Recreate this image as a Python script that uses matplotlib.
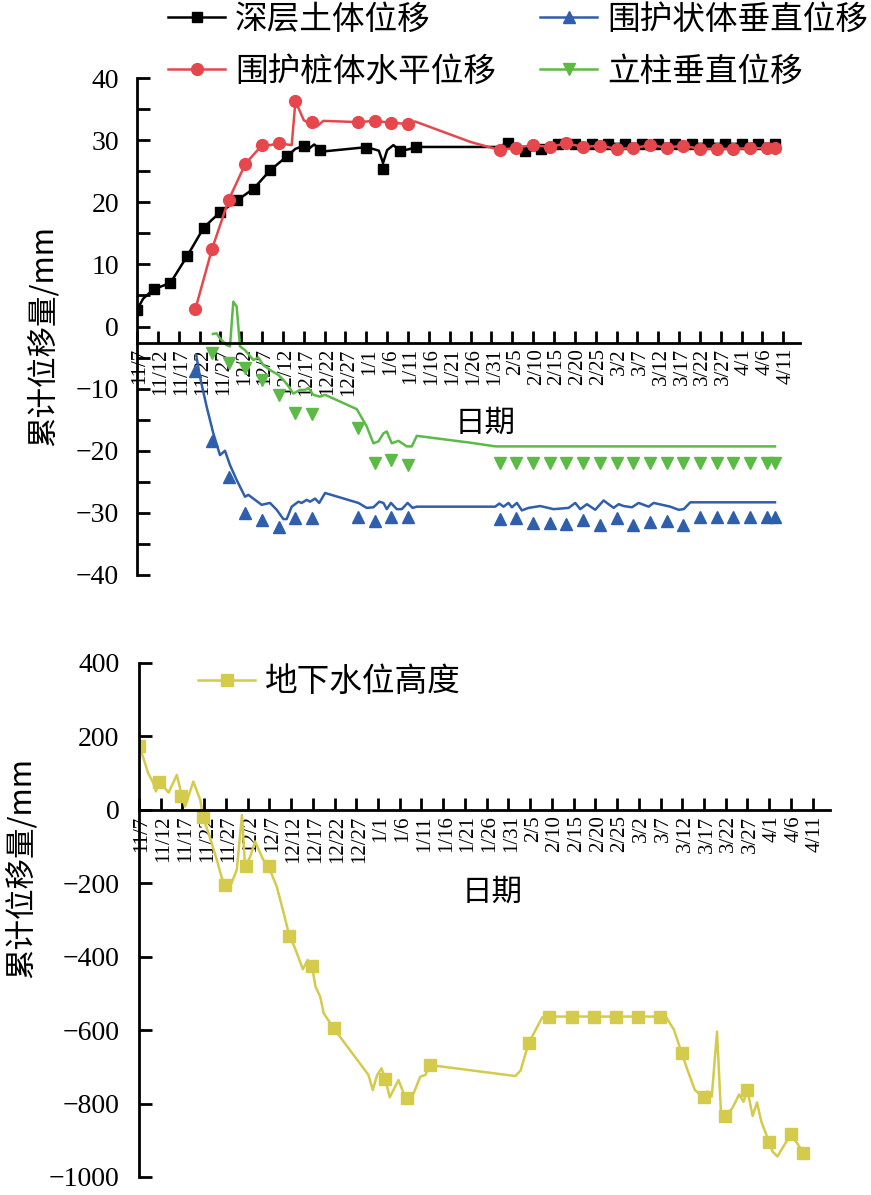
import matplotlib
matplotlib.use("Agg")
import matplotlib.pyplot as plt
import matplotlib.transforms as mtransforms
from matplotlib.lines import Line2D
from matplotlib.ticker import MultipleLocator
from matplotlib.font_manager import FontProperties

# 日期：从 11/7 起的天数
tick_days = list(range(0, 156, 5))
tick_labels = ["11/7", "11/12", "11/17", "11/22", "11/27", "12/2", "12/7", "12/12",
               "12/17", "12/22", "12/27", "1/1", "1/6", "1/11", "1/16", "1/21",
               "1/26", "1/31", "2/5", "2/10", "2/15", "2/20", "2/25", "3/2", "3/7",
               "3/12", "3/17", "3/22", "3/27", "4/1", "4/6", "4/11"]

# 深层土体位移
soil_line_days = [0, 1.5, 4, 8, 12, 16, 18, 20, 24, 28, 32, 36, 38, 40, 41, 42.5, 44, 45,
                  54, 55, 56.5, 58, 59, 60, 61.5, 63, 65, 67, 86.7, 89, 93, 97, 101, 105, 153]
soil_line_vals = [2.7, 4.5, 6.0, 7.0, 11.3, 15.9, 17.2, 18.4, 20.3, 22.2, 25.2, 27.4, 28.6,
                  29.1, 28.5, 29.3, 28.4, 28.2, 28.8, 28.7, 28.6, 28.3, 26.3, 28.4, 29.2,
                  28.3, 28.5, 28.9, 28.9, 29.6, 28.2, 28.5, 29.3, 29.4, 29.4]
soil_mark_days = [0, 4, 8, 12, 16, 20, 24, 28, 32, 36, 40, 44, 55, 59, 63, 67,
                  89, 93, 97, 101, 105, 109, 113, 117, 121, 125, 129, 133, 137, 141,
                  145, 149, 153]
soil_mark_vals = [2.7, 6.0, 7.0, 11.3, 15.9, 18.4, 20.3, 22.2, 25.2, 27.4, 29.1, 28.4,
                  28.7, 25.3, 28.3, 28.9, 29.6, 28.2, 28.5, 29.3, 29.4, 29.4, 29.4, 29.4,
                  29.4, 29.4, 29.4, 29.4, 29.4, 29.4, 29.4, 29.4, 29.4]

# 围护桩体水平位移
pile_line_days = [14, 18, 22, 26, 30, 32, 34, 36, 37.1, 38, 40, 42.2, 43.1, 44.7, 53, 57,
                  61, 65, 66.7, 80, 87, 91, 95, 99, 103, 107, 111, 115, 119, 123, 127,
                  131, 135, 139, 143, 147, 151, 153]
pile_line_vals = [2.8, 12.5, 20.4, 26.2, 29.2, 29.2, 29.5, 29.3, 29.2, 36.3, 33.2, 32.4,
                  32.2, 33.1, 32.9, 33.1, 32.8, 32.6, 33.0, 29.7, 28.4, 28.8, 29.2, 28.9,
                  29.5, 28.9, 29.1, 28.6, 28.7, 29.2, 28.8, 29.1, 28.6, 28.6, 28.6, 28.7,
                  28.7, 28.7]
pile_mark_days = [14, 18, 22, 26, 30, 34, 38, 42, 53, 57, 61, 65, 87, 91, 95, 99, 103,
                  107, 111, 115, 119, 123, 127, 131, 135, 139, 143, 147, 151, 153]
pile_mark_vals = [2.8, 12.5, 20.4, 26.2, 29.2, 29.5, 36.3, 32.9, 32.9, 33.1, 32.8, 32.6,
                  28.4, 28.8, 29.2, 28.9, 29.5, 28.9, 29.1, 28.6, 28.7, 29.2, 28.8, 29.1,
                  28.6, 28.6, 28.6, 28.7, 28.7, 28.7]

# 围护状体垂直位移
wall_line_days = [14.2, 15.1, 16.7, 18.3, 19.9, 21.1, 22.3, 23.9, 25.9, 26.7, 28.3, 29.9,
                  31.9, 33.5, 35.1, 35.9, 37.1, 38.7, 39.5, 40.7, 41.5, 42.7, 43.7, 45.1,
                  53.1, 55.1, 56.7, 58.1, 59.1, 59.9, 60.9, 62.3, 63.5, 64.9, 66.1, 67.1,
                  85.9, 86.9, 87.9, 89.1, 89.9, 91.1, 92.3, 93.9, 96.7, 99.9, 103.5, 105.1,
                  106.3, 107.9, 109.9, 111.9, 114.3, 115.5, 116.7, 118.7, 120.3, 122.7,
                  123.9, 127.9, 129.9, 131.1, 132.7, 153]
wall_line_vals = [-4.6, -8.1, -12.9, -17.2, -20.7, -20.0, -22.3, -24.7, -27.4, -27.1, -27.9,
                  -28.7, -28.4, -29.5, -31.0, -31.0, -29.0, -28.2, -28.4, -27.9, -28.2,
                  -27.7, -28.4, -26.8, -28.4, -29.2, -29.1, -28.2, -28.4, -29.4, -28.4,
                  -29.4, -29.4, -28.4, -29.2, -29.0, -29.0, -28.5, -29.0, -28.4, -29.1,
                  -28.4, -29.6, -29.2, -28.9, -29.4, -29.2, -28.4, -29.4, -28.6, -29.5,
                  -28.0, -29.2, -28.6, -28.9, -29.1, -28.4, -29.0, -28.4, -29.0, -29.5,
                  -29.4, -28.3, -28.3]
wall_mark_days = [14, 18, 22, 26, 30, 34, 38, 42, 53, 57, 61, 65, 87, 91, 95, 99, 103,
                  107, 111, 115, 119, 123, 127, 131, 135, 139, 143, 147, 151, 153]
wall_mark_vals = [-7.1, -18.4, -24.3, -30.1, -31.1, -32.3, -30.9, -30.9, -30.7, -31.3,
                  -30.7, -30.7, -31.0, -30.9, -31.7, -31.7, -31.8, -31.1, -32.0, -30.9,
                  -32.0, -31.4, -31.3, -32.0, -30.7, -30.7, -30.7, -30.7, -30.7, -30.7]

# 立柱垂直位移
column_line_days = [18.2, 19.1, 19.9, 21.5, 22.3, 23.1, 23.9, 24.7, 25.9, 27.9, 29.1, 30.3,
                    31.9, 33.9, 35.1, 36.3, 37.5, 39.1, 40.3, 41.1, 42.3, 43.9, 45.1, 47.1,
                    52.7, 55.1, 56.7, 57.9, 59.1, 59.9, 61.1, 62.7, 64.7, 65.9, 67.1, 79.9,
                    86, 153]
column_line_vals = [-1.2, -1.1, -1.9, -3.0, -3.2, 4.0, 3.2, -3.2, -3.8, -5.4, -5.0, -6.2,
                    -7.0, -7.8, -8.6, -9.6, -10.8, -10.2, -10.2, -9.9, -11.0, -11.3, -11.0,
                    -11.6, -13.3, -16.1, -18.8, -18.5, -17.2, -16.9, -18.8, -18.4, -19.3,
                    -19.3, -17.6, -18.7, -19.3, -19.3]
column_mark_days = [18, 22, 26, 30, 34, 38, 42, 53, 57, 61, 65, 87, 91, 95, 99, 103, 107,
                    111, 115, 119, 123, 127, 131, 135, 139, 143, 147, 151, 153]
column_mark_vals = [-4.2, -5.9, -6.6, -8.6, -11.0, -13.9, -14.1, -16.3, -21.9, -21.5, -22.3,
                    -22.0, -22.0, -22.0, -22.0, -22.0, -22.0, -22.0, -22.0, -22.0, -22.0,
                    -22.0, -22.0, -22.0, -22.0, -22.0, -22.0, -22.0, -22.0]

# 地下水位高度
water_line_days = [0, 1.4, 2.1, 3.3, 3.9, 4.7, 6.8, 8.7, 9.8, 10.6, 12.5, 14.1, 14.8, 16.0,
                   17.9, 19.4, 20.6, 22.5, 23.7, 24.4, 25.6, 26.7, 28.6, 29.8, 31.7, 33.2,
                   34.6, 35.9, 37.7, 38.8, 39.8, 40.6, 41.7, 42.5, 44.8, 52.8, 53.8, 54.8,
                   55.8, 56.7, 57.7, 59.7, 60.9, 61.7, 63.2, 64.7, 65.9, 66.9, 86.6, 87.8,
                   89.7, 92.8, 94.3, 121.2, 123.1, 124.9, 126.2, 127.9, 129.9, 130.8, 131.8,
                   133.0, 133.9, 134.8, 136.5, 138.1, 139.1, 140.0, 141.2, 142.2, 143.2,
                   145.0, 145.8, 146.9, 150.0, 152.9]
water_line_vals = [177, 127, 100, 73, 50, 77, 47, 95, 41, 9, 77, 27, -23, -63, -136, -200,
                   -220, -163, -14, -154, -127, -86, -136, -154, -209, -277, -343, -377,
                   -434, -409, -425, -481, -509, -554, -595, -722, -763, -722, -704, -734,
                   -783, -736, -772, -786, -772, -727, -722, -695, -725, -710, -634, -565,
                   -563, -563, -599, -663, -708, -763, -783, -767, -781, -604, -822, -834,
                   -813, -775, -795, -763, -834, -797, -849, -905, -931, -944, -883, -934]
water_mark_days = [0, 4.7, 9.6, 14.7, 19.7, 24.7, 29.8, 34.6, 39.8, 44.8, 56.7, 61.7, 66.9,
                   89.7, 94.3, 99.7, 104.8, 109.8, 114.8, 119.9, 124.9, 129.9, 134.8, 140.0,
                   145.0, 150.0, 152.9]
water_mark_vals = [174, 77, 39, -20, -204, -153, -154, -343, -425, -595, -734, -786, -695,
                   -634, -565, -563, -563, -563, -563, -563, -663, -783, -834, -763, -905,
                   -883, -934]

BLACK = "#000000"
RED = "#E5474D"
BLUE = "#2F5EAC"
GREEN = "#5CBA46"
YELLOW = "#D4CB4C"

NUM_FONT = "Liberation Serif"
CJK = FontProperties(family=["Noto Sans CJK SC", "DejaVu Sans"], size=22)
CJK_LEG = FontProperties(family=["Noto Sans CJK SC", "DejaVu Sans"], size=23.5)

fig = plt.figure(figsize=(8.71, 11.95), dpi=100)
ax1 = fig.add_axes([137 / 871, 1 - 575 / 1195, 663 / 871, 497 / 1195])
ax2 = fig.add_axes([139 / 871, 1 - 1177 / 1195, 691 / 871, 514 / 1195])


def style_axis(ax, cross_y, label_pad):
    for side in ("top", "right"):
        ax.spines[side].set_visible(False)
    ax.spines["left"].set_linewidth(2.0)
    ax.spines["bottom"].set_linewidth(2.0)
    ax.spines["bottom"].set_position(("data", cross_y))
    ax.set_xlim(0, 159)
    ax.set_xticks(tick_days)
    ax.set_xticklabels(tick_labels, rotation=90, fontsize=15, fontfamily=NUM_FONT)
    ax.tick_params(axis="x", direction="in", length=9, width=2.0, pad=4)
    ax.tick_params(axis="y", which="both", direction="in", length=9, width=2.0,
                   pad=label_pad, labelsize=20)
    for lab in ax.get_yticklabels():
        lab.set_fontfamily(NUM_FONT)
    shift = mtransforms.ScaledTranslation(3 / 100, 0, fig.dpi_scale_trans)
    for lab in ax.get_xticklabels():
        lab.set_transform(lab.get_transform() + shift)


# 上图：位移
ax1.set_ylim(-40, 40)
ax1.set_yticks(range(-40, 41, 10))
ax1.yaxis.set_minor_locator(MultipleLocator(5))
style_axis(ax1, -2.6, 13)

ax1.plot(soil_line_days, soil_line_vals, color=BLACK, lw=1.8)
ax1.plot(soil_mark_days, soil_mark_vals, ls="none", marker="s", ms=7.5, color=BLACK)
ax1.plot(pile_line_days, pile_line_vals, color=RED, lw=1.8)
ax1.plot(pile_mark_days, pile_mark_vals, ls="none", marker="o", ms=8.5, color=RED)
ax1.plot(wall_line_days, wall_line_vals, color=BLUE, lw=1.8)
ax1.plot(wall_mark_days, wall_mark_vals, ls="none", marker="^", ms=8, color=BLUE)
ax1.plot(column_line_days, column_line_vals, color=GREEN, lw=1.8)
ax1.plot(column_mark_days, column_mark_vals, ls="none", marker="v", ms=8, color=GREEN)

handles = [
    Line2D([], [], color=BLACK, lw=1.8, marker="s", ms=7.5),
    Line2D([], [], color=RED, lw=1.8, marker="o", ms=8.5),
    Line2D([], [], color=BLUE, lw=1.8, marker="^", ms=8),
    Line2D([], [], color=GREEN, lw=1.8, marker="v", ms=8),
]
labels = ["深层土体位移", "围护桩体水平位移", "围护状体垂直位移", "立柱垂直位移"]
fig.legend(handles, labels, loc="upper left", bbox_to_anchor=(168 / 871, 0.997),
           ncol=2, frameon=False, prop=CJK_LEG, handlelength=1.75, handletextpad=0.3,
           columnspacing=1.35, labelspacing=0.62, borderpad=0, borderaxespad=0,
           numpoints=1)

fig.text(43 / 871, 1 - 336 / 1195, "累计位移量/mm", rotation=90, ha="center",
         va="center", fontproperties=CJK)
fig.text(485 / 871, 1 - 423 / 1195, "日期", ha="center", va="center",
         fontproperties=CJK)

# 下图：地下水位
ax2.set_ylim(-1000, 400)
ax2.set_yticks(range(-1000, 401, 200))
style_axis(ax2, 0, 14)

ax2.plot(water_line_days, water_line_vals, color=YELLOW, lw=1.8)
ax2.plot(water_mark_days, water_mark_vals, ls="none", marker="s", ms=9, color=YELLOW)
ax2.legend([Line2D([], [], color=YELLOW, lw=1.8, marker="s", ms=9)], ["地下水位高度"],
           loc="upper left", bbox_to_anchor=(198 / 871, 1 - 666 / 1195),
           bbox_transform=fig.transFigure, frameon=False, prop=CJK_LEG,
           handlelength=1.75, handletextpad=0.3, borderpad=0, borderaxespad=0,
           numpoints=1)

fig.text(21 / 871, 1 - 867 / 1195, "累计位移量/mm", rotation=90, ha="center",
         va="center", fontproperties=CJK)
fig.text(492 / 871, 1 - 892 / 1195, "日期", ha="center", va="center",
         fontproperties=CJK)

fig.savefig("out.png", dpi=100)
